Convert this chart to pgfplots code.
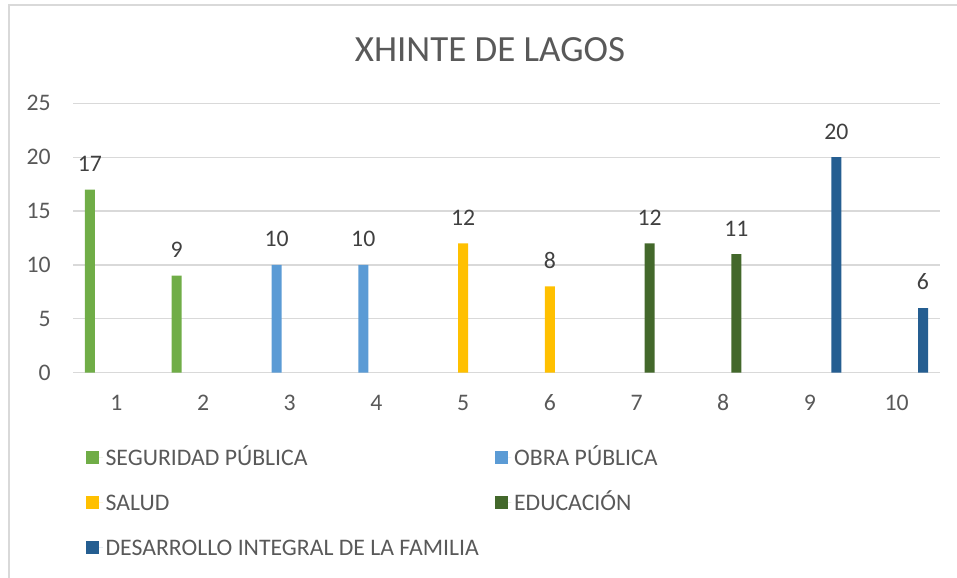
\documentclass[border=0pt]{standalone}
\usepackage{fontspec}
\setmainfont{Carlito}
\usepackage{pgfplots}
\pgfplotsset{compat=1.18}
\definecolor{segur}{HTML}{70AD47}
\definecolor{obra}{HTML}{5B9BD5}
\definecolor{salud}{HTML}{FFC000}
\definecolor{educ}{HTML}{43682B}
\definecolor{dif}{HTML}{255E91}
\definecolor{gridc}{HTML}{D9D9D9}
\definecolor{txt}{HTML}{595959}
\definecolor{lbl}{HTML}{404040}
\newcommand{\nfont}{\fontsize{17.8pt}{21pt}\selectfont}

\begin{document}
\begin{tikzpicture}
\path[use as bounding box] (0,0) rectangle (717.75pt,433.5pt);
% chart area border (only top and left edges visible)
\draw[gridc, line width=1.5pt] (7.1pt,0) -- (7.1pt,429.5pt) -- (717.75pt,429.5pt);
\node[text=txt, font=\fontsize{27.7pt}{32pt}\selectfont] at (367.5pt,396pt) {XHINTE DE LAGOS};
\begin{axis}[
 at={(54.75pt,154pt)}, anchor=south west,
 scale only axis, width=650.25pt, height=202pt,
 xmin=0.5, xmax=10.5, ymin=0, ymax=25,
 xtick={1,...,10}, ytick={0,5,...,25},
 ymajorgrids, grid style={gridc, line width=1pt},
 axis line style={draw=none}, major tick length=0pt,
 ybar, bar width=0.1153,
 ticklabel style={font=\nfont, text=txt, inner sep=0pt},
 /pgf/number format/assume math mode=true,
 xticklabel style={anchor=center, yshift=-22.5pt},
 yticklabel style={anchor=east, xshift=-16.5pt},
 nodes near coords,
 every node near coord/.append style={font=\nfont, text=lbl, anchor=south, inner sep=0pt, yshift=13.2pt},
 legend columns=2,
 legend cell align=left,
 legend style={at={(0.015,-0.2535)}, anchor=north west, draw=none, fill=none,
   inner sep=0pt, font=\nfont, text=txt,
   nodes={inner sep=2pt, text height=16pt, text depth=4pt},
   /tikz/every even column/.append style={column sep=10pt},
   row sep=9.75pt},
 legend image code/.code={\fill[#1,draw=none] (0pt,-4.875pt) rectangle (9.75pt,4.875pt);
   \path (0pt,0pt) -- (12.5pt,0pt);},
]
\addplot[fill=segur, draw=none, bar shift=-0.304] coordinates {(1,17) (2,9)};
\addlegendentry{SEGURIDAD PÚBLICA}
\addplot[fill=obra, draw=none, bar shift=-0.152] coordinates {(3,10) (4,10)};
\addlegendentry{OBRA PÚBLICA}
\addplot[fill=salud, draw=none, bar shift=0] coordinates {(5,12) (6,8)};
\addlegendentry{SALUD}
\addplot[fill=educ, draw=none, bar shift=0.152] coordinates {(7,12) (8,11)};
\addlegendentry{EDUCACIÓN}
\addplot[fill=dif, draw=none, bar shift=0.304] coordinates {(9,20) (10,6)};
\addlegendentry{DESARROLLO INTEGRAL DE LA FAMILIA}
\end{axis}
\end{tikzpicture}
\end{document}
